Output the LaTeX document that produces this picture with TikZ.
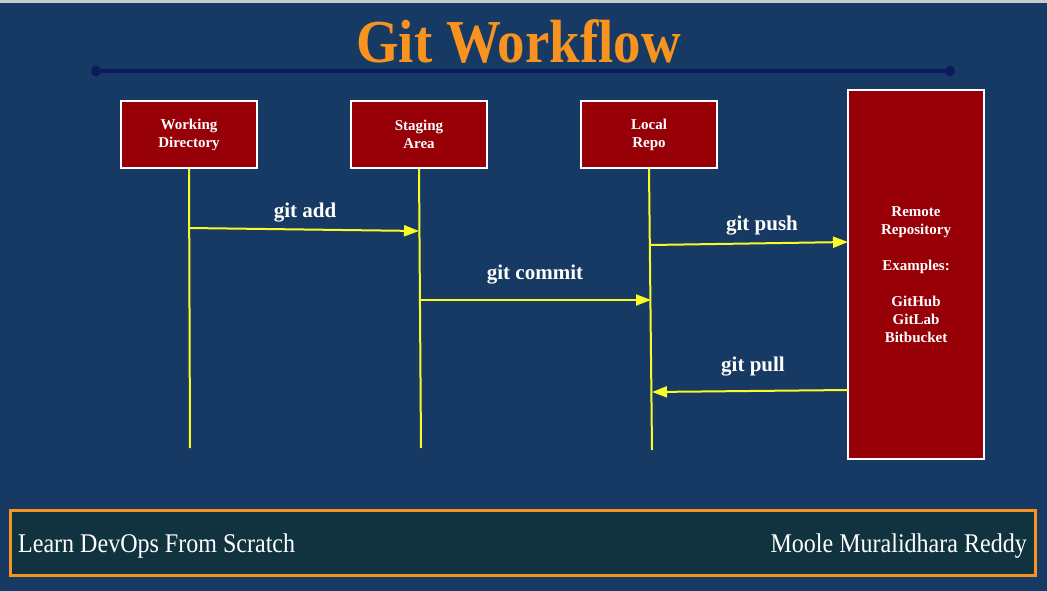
\documentclass[tikz,border=0pt]{standalone}
\usepackage{fontspec}
\setmainfont{Liberation Serif}
\usetikzlibrary{arrows.meta}
\definecolor{bgblue}{RGB}{22,58,99}
\definecolor{titleorange}{RGB}{247,147,30}
\definecolor{navyline}{RGB}{10,28,92}
\definecolor{boxred}{RGB}{152,0,8}
\definecolor{lifeyellow}{RGB}{250,250,40}
\definecolor{footfill}{RGB}{17,51,64}
\begin{document}
\begin{tikzpicture}[x=1pt,y=-1pt,
  stagebox/.style={draw=white,line width=2pt,fill=boxred,text=white,align=center,
    minimum width=136pt,minimum height=67pt,inner sep=0pt,
    font=\bfseries\fontsize{15}{18}\selectfont},
  lifeline/.style={draw=lifeyellow,line width=2pt},
  msg/.style={draw=lifeyellow,line width=2pt,-{Triangle[length=15pt,width=11pt]}},
  msglabel/.style={text=white,font=\bfseries\fontsize{21}{24}\selectfont,anchor=base},
  foottext/.style={text=white,font=\fontsize{27}{30}\selectfont,inner sep=0pt}]
\useasboundingbox (0,0) rectangle (1047,591);
\fill[bgblue] (0,0) rectangle (1047,591);
\fill[gray!40] (0,0) rectangle (1047,3);
% title
\node[anchor=base,text=titleorange,font=\bfseries\fontsize{61}{66}\selectfont] (title) at (518.5,63) {\scalebox{0.9}[1]{Git Workflow}};
\coordinate (tl) at (96,71);
\coordinate (tr) at (950,71);
\draw[navyline,line width=4pt] (tl) -- (tr);
\fill[navyline] (tl) ellipse (5pt and 5.5pt);
\fill[navyline] (tr) ellipse (5pt and 5.5pt);
% boxes
\node[stagebox] (wd) at (189,134.5) {Working\\Directory};
\node[stagebox] (sa) at (419,134.5) {Staging\\Area};
\node[stagebox] (lr) at (649,134.5) {Local\\Repo};
\node[stagebox,minimum height=369pt] (rr) at (916,274.5) {Remote\\Repository\\[18pt]Examples:\\[18pt]GitHub\\GitLab\\Bitbucket};
% lifelines
\coordinate (wdend) at (190,448);
\coordinate (saend) at (421,448);
\coordinate (lrend) at (652,450);
\draw[lifeline] (wd.south) -- (wdend);
\draw[lifeline] (sa.south) -- (saend);
\draw[lifeline] (lr.south) -- (lrend);
% message points
\coordinate (addS) at (189,228);
\coordinate (addE) at (419,231);
\coordinate (comS) at (421,300);
\coordinate (comE) at (651,300);
\coordinate (pushS) at (651,245);
\coordinate (pushE) at (848,242);
\coordinate (pullS) at (848,390);
\coordinate (pullE) at (652,392);
\draw[msg] (addS) -- (addE);
\draw[msg] (comS) -- (comE);
\draw[msg] (pushS) -- (pushE);
\draw[msg] (pullS) -- (pullE);
\node[msglabel] (addL) at (305,217) {git add};
\node[msglabel] (comL) at (535,279) {git commit};
\node[msglabel] (pushL) at (762,230) {git push};
\node[msglabel] (pullL) at (753,371) {git pull};
% footer
\node[draw=titleorange,line width=3pt,fill=footfill,minimum width=1025pt,minimum height=65pt,inner sep=0pt] (footer) at (522.5,542.5) {};
\node[foottext,anchor=base west] (left) at (18,552) {\scalebox{0.89}[1]{Learn DevOps From Scratch}};
\node[foottext,anchor=base east] (right) at (1027,552) {\scalebox{0.89}[1]{Moole Muralidhara Reddy}};
\end{tikzpicture}
\end{document}
